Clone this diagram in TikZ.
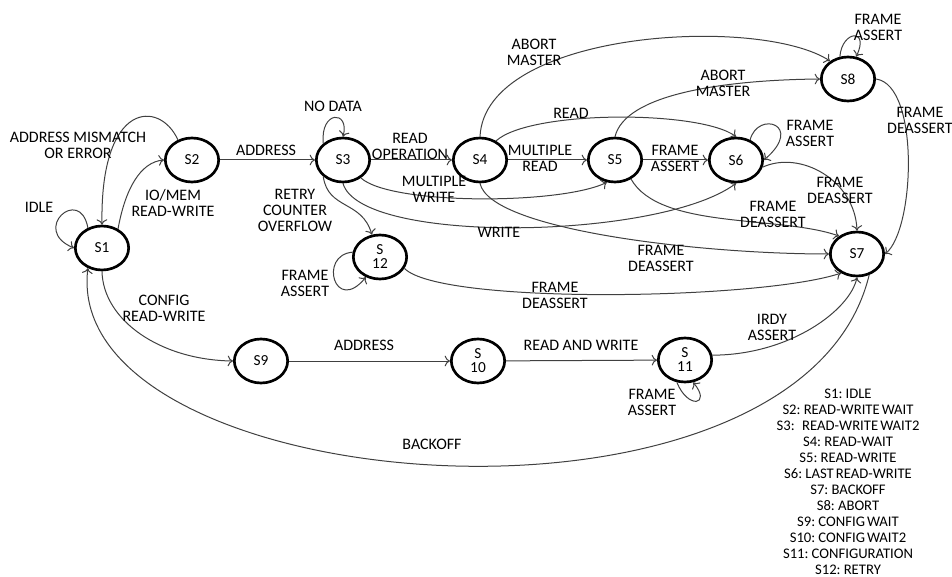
\documentclass[tikz,border=0pt]{standalone}
\usepackage{fontspec}
\setmainfont{Carlito}
\usetikzlibrary{shapes.geometric,arrows.meta}

\tikzset{
  stnode/.style={draw, ellipse, line width=2pt, minimum width=40pt, minimum height=33pt, inner sep=0pt, align=center, font=\fontsize{11.5}{10.5}\selectfont},
  tlabel/.style={align=center, inner sep=0pt, font=\fontsize{12}{12}\selectfont},
  trans/.style={-{To[length=4pt,width=8pt]}, draw=black!75, line width=0.75pt},
}
\newcommand{\legendfont}{\fontsize{11}{12}\selectfont\spaceskip=0.14em\relax}

\begin{document}
\begin{tikzpicture}[x=0.75pt,y=0.75pt,yscale=-1,xscale=1]
\useasboundingbox (0,0) rectangle (952,577);

% States
\node[stnode] (s1) at (102,248) {S1};
\node[stnode] (s2) at (192,160) {S2};
\node[stnode] (s3) at (343,160) {S3};
\node[stnode] (s4) at (480,160) {S4};
\node[stnode] (s5) at (615,160) {S5};
\node[stnode] (s6) at (736,160) {S6};
\node[stnode] (s7) at (857,254) {S7};
\node[stnode] (s8) at (848,79) {S8};
\node[stnode] (s9) at (261,361) {S9};
\node[stnode] (s10) at (478,361) {S\\10};
\node[stnode] (s11) at (685,360) {S\\11};
\node[stnode] (s12) at (380,257) {S\\12};

%Straight Lines
\draw[trans] (s2) -- (s3);
\draw[trans] (s3) -- (s4);
\draw[trans] (s4) -- (s5);
\draw[trans] (s5) -- (s6);
\draw[trans] (s9) -- (s10);
\draw[trans] (s10) -- (s11);

%Curve Lines
\draw[trans] (s1.125) .. controls (80,185) and (30,230) .. (s1.west);
\draw[trans] (s1.50) .. controls (125,190) and (140,162) .. (s2.west);
\draw[trans] (s2.125) .. controls (160,100) and (100,100) .. (s1.north);
\draw[trans] (s3.140) .. controls (320,110) and (350,110) .. (s3.north);
\draw[trans] (s3.220) .. controls (328,210) and (362,200) .. (s12.110);
\draw[trans] (s3.315) .. controls (390,205) and (560,205) .. (s5.250);
\draw[trans] (s3.south) .. controls (360,245) and (660,240) .. (s6.south);
\draw[trans] (s4.50) .. controls (530,110) and (700,110) .. (s6.north);
\draw[trans] (s4.north) .. controls (485,30) and (760,15) .. (s8.135);
\draw[trans] (s4.south) .. controls (490,230) and (700,254) .. (s7.west);
\draw[trans] (s5.north) .. controls (625,95) and (720,80) .. (s8.west);
\draw[trans] (s5.310) .. controls (660,230) and (780,215) .. (s7.135);
\draw[trans] (s6.55) .. controls (758,110) and (805,125) .. (s6.east);
\draw[trans] (s6.345) .. controls (800,150) and (855,180) .. (s7.north);
\draw[trans] (s8.110) .. controls (842,30) and (870,28) .. (s8.70);
\draw[trans] (s8.east) .. controls (920,85) and (915,230) .. (s7.east);
\draw[trans] (s12.170) .. controls (318,255) and (335,315) .. (s12.235);
\draw[trans] (s12.335) .. controls (440,305) and (760,300) .. (s7.230);
\draw[trans] (s1.south) .. controls (103,320) and (160,360) .. (s9.west);
\draw[trans] (s11.10) .. controls (790,355) and (850,310) .. (s7.south);
\draw[trans] (s11.250) .. controls (688,410) and (712,405) .. (s11.290);
\draw[trans] (s7.300) .. controls (800,560) and (60,500) .. (s1.235);

% Text Node
\node[tlabel] (tmis) at (78,145) {ADDRESS MISMATCH\\OR ERROR};
\node[tlabel] (tidle) at (39,207) {IDLE};
\node[tlabel] (tiomem) at (173,203) {IO/MEM\\READ-WRITE};
\node[tlabel] (taddr) at (266,150) {ADDRESS};
\node[tlabel] (tnodata) at (333,106) {NO DATA};
\node[tlabel] (treadop) at (410,146) {READ\\OPERATION};
\node[tlabel] (tretry) at (295,210) {RETRY\\COUNTER\\OVERFLOW};
\node[tlabel] (tmwrite) at (434,189) {MULTIPLE\\WRITE};
\node[tlabel] (twrite) at (499,232) {WRITE};
\node[tlabel] (tfa12) at (305,283) {FRAME\\ASSERT};
\node[tlabel] (tfd12) at (555,295) {FRAME\\DEASSERT};
\node[tlabel] (tab4) at (534,52) {ABORT\\MASTER};
\node[tlabel] (tab5) at (723,83) {ABORT\\MASTER};
\node[tlabel] (tread) at (571,113) {READ};
\node[tlabel] (tmread) at (540,158) {MULTIPLE\\READ};
\node[tlabel] (tfa5) at (675,158) {FRAME\\ASSERT};
\node[tlabel] (tfa6) at (810,133) {FRAME\\ASSERT};
\node[tlabel] (tfa8) at (878,27) {FRAME\\ASSERT};
\node[tlabel] (tfd8) at (920,120) {FRAME\\DEASSERT};
\node[tlabel] (tfd6) at (840,190) {FRAME\\DEASSERT};
\node[tlabel] (tfd5) at (773,214) {FRAME\\DEASSERT};
\node[tlabel] (tfd4) at (661,258) {FRAME\\DEASSERT};
\node[tlabel] (tconf) at (164,308) {CONFIG\\READ-WRITE};
\node[tlabel] (taddr9) at (364,345) {ADDRESS};
\node[tlabel] (traw) at (581,345) {READ AND WRITE};
\node[tlabel] (tirdy) at (772,327) {IRDY\\ASSERT};
\node[tlabel] (tfa11) at (652,402) {FRAME\\ASSERT};
\node[tlabel] (tback) at (432,444) {BACKOFF};

% Legend
\node[tlabel, font=\legendfont] (legend) at (848,482) {S1: IDLE\\S2: READ-WRITE WAIT\\S3: \hspace{0.3em}READ-WRITE WAIT2\\S4: READ-WAIT\\S5: READ-WRITE\\S6: LAST READ-WRITE\\S7: BACKOFF\\S8: ABORT\\S9: CONFIG WAIT\\S10: CONFIG WAIT2\\S11: CONFIGURATION\\S12: RETRY};
\end{tikzpicture}
\end{document}
